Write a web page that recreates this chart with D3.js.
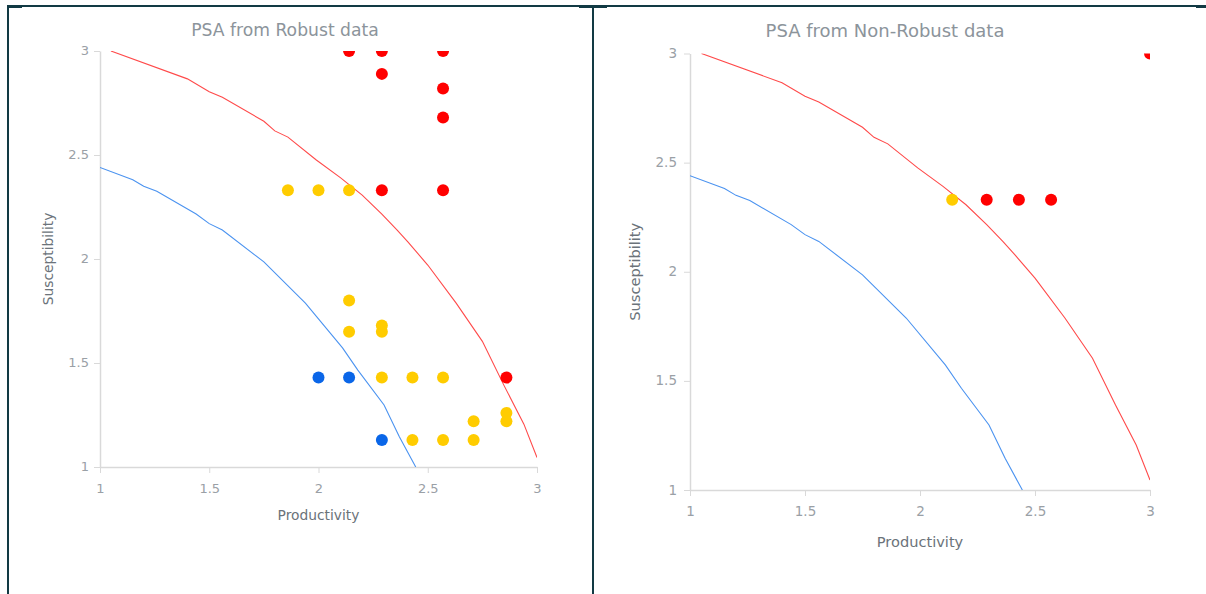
<!DOCTYPE html>
<html>
<head>
<meta charset="utf-8">
<script src="https://cdn.jsdelivr.net/npm/d3@7"></script>
<style>
  html, body { margin: 0; padding: 0; background: #fff; }
  svg { display: block; font-family: "DejaVu Sans", Verdana, sans-serif; }
</style>
</head>
<body>
<svg id="chart" width="1206" height="594"></svg>
<script>
// ---------- data ----------
const titles = ["PSA from Robust data", "PSA from Non-Robust data"];
const xLabel = "Productivity";
const yLabel = "Susceptibility";
const xTicks = [1, 1.5, 2, 2.5, 3];
const yTicks = [1, 1.5, 2, 2.5, 3];

// threshold curves (productivity, susceptibility)
const redCurve = [[1.05,3.0],[1.40,2.866],[1.50,2.804],[1.56,2.778],[1.75,2.662],[1.80,2.616],[1.86,2.586],[1.99,2.476],[2.10,2.391],[2.20,2.307],[2.29,2.216],[2.36,2.139],[2.41,2.081],[2.50,1.971],[2.63,1.788],[2.75,1.604],[2.85,1.39],[2.94,1.206],[3.0,1.046]];
const blueCurve = [[1.0,2.44],[1.15,2.381],[1.20,2.35],[1.26,2.326],[1.44,2.216],[1.50,2.17],[1.56,2.139],[1.75,1.986],[1.94,1.788],[2.11,1.573],[2.18,1.466],[2.30,1.298],[2.37,1.145],[2.445,1.0]];

// Robust data points
const robustRed = [[2.14,3.0],[2.29,3.0],[2.57,3.0],[2.29,2.89],[2.57,2.82],[2.57,2.68],[2.29,2.33],[2.57,2.33],[2.86,1.43]];
const robustYellow = [[1.86,2.33],[2.0,2.33],[2.14,2.33],[2.14,1.80],[2.14,1.65],[2.29,1.68],[2.29,1.65],[2.29,1.43],[2.43,1.43],[2.57,1.43],[2.71,1.22],[2.86,1.26],[2.86,1.22],[2.43,1.13],[2.57,1.13],[2.71,1.13]];
const robustBlue = [[2.0,1.43],[2.14,1.43],[2.29,1.13]];

// Non-Robust data points
const nonRobustRed = [[2.29,2.33],[2.43,2.33],[2.57,2.33],[3.0,3.0]];
const nonRobustYellow = [[2.14,2.33]];
const nonRobustBlue = [];

// ---------- drawing ----------
const svg = d3.select("#chart");
const BORDER = "#123a44";

// page/table borders
svg.append("rect").attr("x", 7).attr("y", 5).attr("width", 1199).attr("height", 2).attr("fill", BORDER);
svg.append("rect").attr("x", 7).attr("y", 5).attr("width", 2).attr("height", 589).attr("fill", BORDER);
svg.append("rect").attr("x", 592).attr("y", 5).attr("width", 2).attr("height", 589).attr("fill", BORDER);
svg.append("rect").attr("x", 7).attr("y", 5).attr("width", 15).attr("height", 3).attr("fill", BORDER);
svg.append("rect").attr("x", 579).attr("y", 5).attr("width", 28).attr("height", 3).attr("fill", BORDER);
svg.append("rect").attr("x", 1196).attr("y", 5).attr("width", 10).attr("height", 3).attr("fill", BORDER);

const panels = [
  { title: titles[0], x0: 100, x1: 537, y0: 467, y1: 51, titleX: 285, titleY: 36, titleSize: 17.2,
    xLabY: 520, yLabX: 53, labSize: 13.8, tickSize: 13, xTickY: 489, yTickX: 89,
    red: robustRed, yellow: robustYellow, blue: robustBlue, id: "p0" },
  { title: titles[1], x0: 690, x1: 1150, y0: 490, y1: 53.5, titleX: 885, titleY: 37, titleSize: 18,
    xLabY: 547, yLabX: 640, labSize: 14.6, tickSize: 13.5, xTickY: 512, yTickX: 677,
    red: nonRobustRed, yellow: nonRobustYellow, blue: nonRobustBlue, id: "p1" }
];

panels.forEach(p => {
  const x = d3.scaleLinear().domain([1, 3]).range([p.x0, p.x1]);
  const y = d3.scaleLinear().domain([1, 3]).range([p.y0, p.y1]);
  const g = svg.append("g");

  g.append("clipPath").attr("id", "clip-" + p.id)
    .append("rect").attr("x", p.x0).attr("y", p.y1)
    .attr("width", p.x1 - p.x0).attr("height", p.y0 - p.y1);

  // title
  g.append("text").attr("x", p.titleX).attr("y", p.titleY)
    .attr("text-anchor", "middle").attr("font-size", p.titleSize)
    .attr("fill", "#8c949b").text(p.title);

  // axes
  const xAxis = d3.axisBottom(x).tickValues(xTicks).tickFormat(d3.format("")).tickSize(6).tickSizeOuter(0);
  const yAxis = d3.axisLeft(y).tickValues(yTicks).tickFormat(d3.format("")).tickSize(6).tickSizeOuter(0);
  const gx = g.append("g").attr("transform", `translate(0,${p.y0})`).call(xAxis);
  const gy = g.append("g").attr("transform", `translate(${p.x0},0)`).call(yAxis);
  [gx, gy].forEach(a => {
    a.select(".domain").attr("stroke", "#d9d9d9").attr("stroke-width", 1.5);
    a.selectAll(".tick line").attr("stroke", "#d9d9d9").attr("stroke-width", 1);
    a.selectAll(".tick text").attr("fill", "#9aa0a6").attr("font-size", p.tickSize)
      .attr("font-family", "DejaVu Sans, sans-serif");
  });
  gx.selectAll(".tick text").attr("y", null).attr("dy", null)
    .attr("transform", `translate(0,${p.xTickY - p.y0})`).attr("dominant-baseline", "middle");
  gy.selectAll(".tick text").attr("x", null).attr("dy", null)
    .attr("transform", `translate(${p.yTickX - p.x0},0)`).attr("dominant-baseline", "middle");

  // axis labels
  g.append("text").attr("x", (p.x0 + p.x1) / 2).attr("y", p.xLabY)
    .attr("text-anchor", "middle").attr("font-size", p.labSize).attr("fill", "#6b737a").text(xLabel);
  g.append("text").attr("transform", `translate(${p.yLabX},${(p.y0 + p.y1) / 2}) rotate(-90)`)
    .attr("text-anchor", "middle").attr("font-size", p.labSize).attr("fill", "#6b737a").text(yLabel);

  const plot = g.append("g").attr("clip-path", `url(#clip-${p.id})`);
  const line = d3.line().x(d => x(d[0])).y(d => y(d[1]));
  plot.append("path").datum(redCurve).attr("d", line)
    .attr("fill", "none").attr("stroke", "#ff4a4a").attr("stroke-width", 1.1);
  plot.append("path").datum(blueCurve).attr("d", line)
    .attr("fill", "none").attr("stroke", "#4b93f0").attr("stroke-width", 1.1);

  const series = [[p.yellow, "#ffcc00"], [p.blue, "#0a66e8"], [p.red, "#ff0000"]];
  series.forEach(([pts, col]) => {
    plot.selectAll(null).data(pts).enter().append("circle")
      .attr("cx", d => x(d[0])).attr("cy", d => y(d[1])).attr("r", 6).attr("fill", col);
  });
});
</script>
</body>
</html>
